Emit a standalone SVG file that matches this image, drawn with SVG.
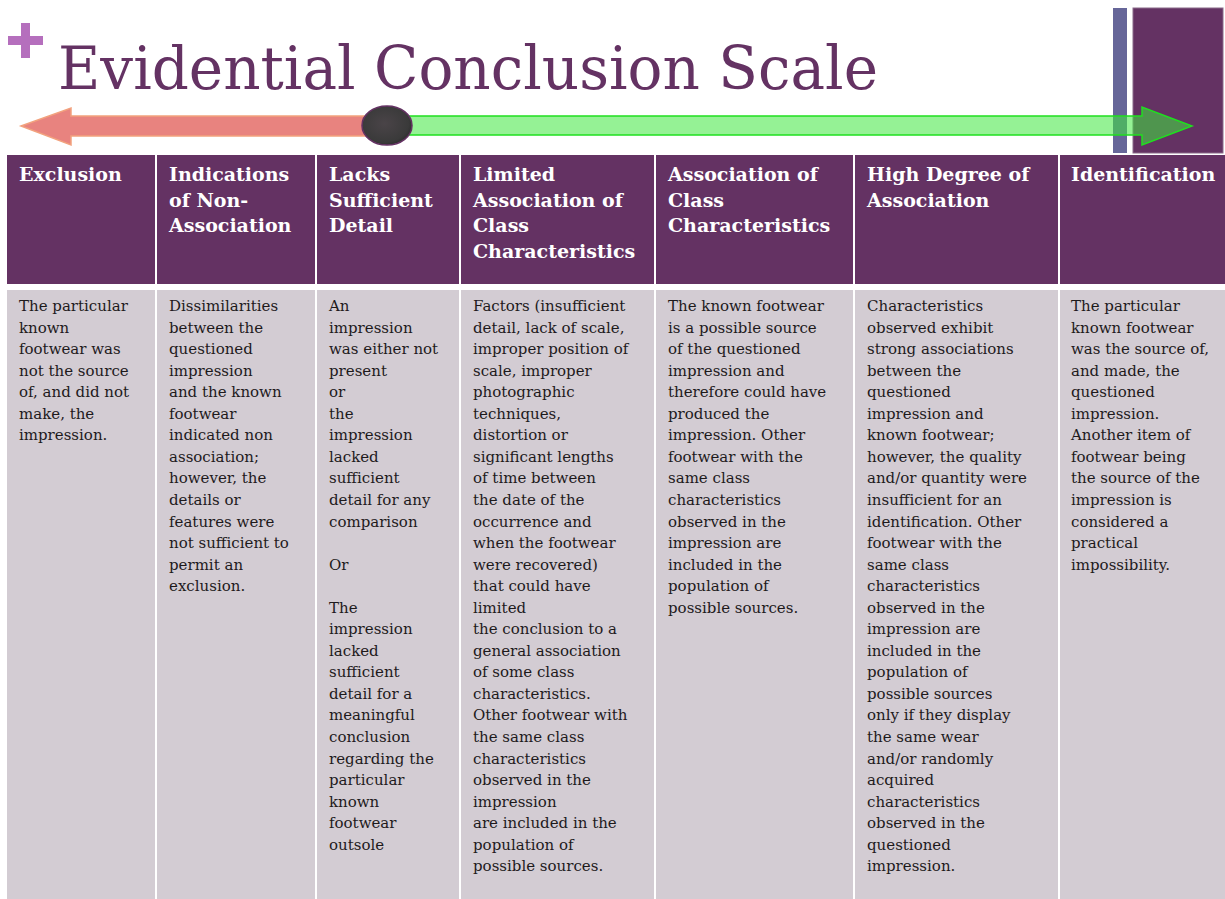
<svg xmlns="http://www.w3.org/2000/svg" width="1225" height="899" viewBox="0 0 1225 899">
<style>
.hd{fill:#643263}
.bd{fill:#d3ccd3}
.ht{font-family:"DejaVu Serif",serif;font-weight:bold;font-size:19px;fill:#ffffff}
.bt{font-family:"DejaVu Serif",serif;font-size:15px;fill:#1e1a1c}
.title{font-family:"DejaVu Serif",serif;font-size:60px;fill:#643263}
</style>
<defs>
<radialGradient id="knob" cx="0.45" cy="0.45" r="0.6">
<stop offset="0" stop-color="#4a4448"/>
<stop offset="0.8" stop-color="#3a3a3a"/>
<stop offset="1" stop-color="#2a2a2a"/>
</radialGradient>
</defs>
<rect width="1225" height="899" fill="#ffffff"/>
<g id="decor">
<rect x="8" y="36" width="35" height="9" fill="#b56fbd"/>
<rect x="21" y="23" width="9" height="35" fill="#b56fbd"/>
<rect x="1113" y="8" width="14" height="145" fill="#666699"/>
<rect x="1133" y="8" width="90" height="145" fill="#643263" stroke="#8a6a8a" stroke-width="1"/>
</g>
<text id="title" class="title" x="58" y="89" textLength="820" lengthAdjust="spacingAndGlyphs">Evidential Conclusion Scale</text>
<g id="connectors">
<path d="M21,126 L71,108 L71,116 L390,116 L390,136 L71,136 L71,145 Z" fill="#e8837f" stroke="#f2a27e" stroke-width="1.5"/>
<path d="M385,116 L1142,116 L1142,107 L1192,126 L1142,145 L1142,135 L385,135 Z" fill="#3ee83e" fill-opacity="0.55" stroke="#1fe01f" stroke-width="1.5"/>
<ellipse cx="387" cy="125.5" rx="25" ry="19.5" fill="url(#knob)" stroke="#643263" stroke-width="1.5"/>
</g>
<g id="col1">
<rect class="hd" x="7" y="155" width="148" height="129"/>
<rect class="bd" x="7" y="290" width="148" height="609"/>
<text class="ht" x="19" y="181">Exclusion</text>
<text class="bt" x="19" y="311"><tspan x="19">The particular</tspan><tspan x="19" dy="21.55">known</tspan><tspan x="19" dy="21.55">footwear was</tspan><tspan x="19" dy="21.55">not the source</tspan><tspan x="19" dy="21.55">of, and did not</tspan><tspan x="19" dy="21.55">make, the</tspan><tspan x="19" dy="21.55">impression.</tspan></text>
</g>
<g id="col2">
<rect class="hd" x="157" y="155" width="158" height="129"/>
<rect class="bd" x="157" y="290" width="158" height="609"/>
<text class="ht" x="169" y="181"><tspan x="169">Indications</tspan><tspan x="169" dy="25.7">of Non-</tspan><tspan x="169" dy="25.7">Association</tspan></text>
<text class="bt" x="169" y="311"><tspan x="169">Dissimilarities</tspan><tspan x="169" dy="21.55">between the</tspan><tspan x="169" dy="21.55">questioned</tspan><tspan x="169" dy="21.55">impression</tspan><tspan x="169" dy="21.55">and the known</tspan><tspan x="169" dy="21.55">footwear</tspan><tspan x="169" dy="21.55">indicated non</tspan><tspan x="169" dy="21.55">association;</tspan><tspan x="169" dy="21.55">however, the</tspan><tspan x="169" dy="21.55">details or</tspan><tspan x="169" dy="21.55">features were</tspan><tspan x="169" dy="21.55">not sufficient to</tspan><tspan x="169" dy="21.55">permit an</tspan><tspan x="169" dy="21.55">exclusion.</tspan></text>
</g>
<g id="col3">
<rect class="hd" x="317" y="155" width="142" height="129"/>
<rect class="bd" x="317" y="290" width="142" height="609"/>
<text class="ht" x="329" y="181"><tspan x="329">Lacks</tspan><tspan x="329" dy="25.7">Sufficient</tspan><tspan x="329" dy="25.7">Detail</tspan></text>
<text class="bt" x="329" y="311"><tspan x="329">An</tspan><tspan x="329" dy="21.55">impression</tspan><tspan x="329" dy="21.55">was either not</tspan><tspan x="329" dy="21.55">present</tspan><tspan x="329" dy="21.55">or</tspan><tspan x="329" dy="21.55">the</tspan><tspan x="329" dy="21.55">impression</tspan><tspan x="329" dy="21.55">lacked</tspan><tspan x="329" dy="21.55">sufficient</tspan><tspan x="329" dy="21.55">detail for any</tspan><tspan x="329" dy="21.55">comparison</tspan><tspan x="329" dy="43.1">Or</tspan><tspan x="329" dy="43.1">The</tspan><tspan x="329" dy="21.55">impression</tspan><tspan x="329" dy="21.55">lacked</tspan><tspan x="329" dy="21.55">sufficient</tspan><tspan x="329" dy="21.55">detail for a</tspan><tspan x="329" dy="21.55">meaningful</tspan><tspan x="329" dy="21.55">conclusion</tspan><tspan x="329" dy="21.55">regarding the</tspan><tspan x="329" dy="21.55">particular</tspan><tspan x="329" dy="21.55">known</tspan><tspan x="329" dy="21.55">footwear</tspan><tspan x="329" dy="21.55">outsole</tspan></text>
</g>
<g id="col4">
<rect class="hd" x="461" y="155" width="193" height="129"/>
<rect class="bd" x="461" y="290" width="193" height="609"/>
<text class="ht" x="473" y="181"><tspan x="473">Limited</tspan><tspan x="473" dy="25.7">Association of</tspan><tspan x="473" dy="25.7">Class</tspan><tspan x="473" dy="25.7">Characteristics</tspan></text>
<text class="bt" x="473" y="311"><tspan x="473">Factors (insufficient</tspan><tspan x="473" dy="21.55">detail, lack of scale,</tspan><tspan x="473" dy="21.55">improper position of</tspan><tspan x="473" dy="21.55">scale, improper</tspan><tspan x="473" dy="21.55">photographic</tspan><tspan x="473" dy="21.55">techniques,</tspan><tspan x="473" dy="21.55">distortion or</tspan><tspan x="473" dy="21.55">significant lengths</tspan><tspan x="473" dy="21.55">of time between</tspan><tspan x="473" dy="21.55">the date of the</tspan><tspan x="473" dy="21.55">occurrence and</tspan><tspan x="473" dy="21.55">when the footwear</tspan><tspan x="473" dy="21.55">were recovered)</tspan><tspan x="473" dy="21.55">that could have</tspan><tspan x="473" dy="21.55">limited</tspan><tspan x="473" dy="21.55">the conclusion to a</tspan><tspan x="473" dy="21.55">general association</tspan><tspan x="473" dy="21.55">of some class</tspan><tspan x="473" dy="21.55">characteristics.</tspan><tspan x="473" dy="21.55">Other footwear with</tspan><tspan x="473" dy="21.55">the same class</tspan><tspan x="473" dy="21.55">characteristics</tspan><tspan x="473" dy="21.55">observed in the</tspan><tspan x="473" dy="21.55">impression</tspan><tspan x="473" dy="21.55">are included in the</tspan><tspan x="473" dy="21.55">population of</tspan><tspan x="473" dy="21.55">possible sources.</tspan></text>
</g>
<g id="col5">
<rect class="hd" x="656" y="155" width="197" height="129"/>
<rect class="bd" x="656" y="290" width="197" height="609"/>
<text class="ht" x="668" y="181"><tspan x="668">Association of</tspan><tspan x="668" dy="25.7">Class</tspan><tspan x="668" dy="25.7">Characteristics</tspan></text>
<text class="bt" x="668" y="311"><tspan x="668">The known footwear</tspan><tspan x="668" dy="21.55">is a possible source</tspan><tspan x="668" dy="21.55">of the questioned</tspan><tspan x="668" dy="21.55">impression and</tspan><tspan x="668" dy="21.55">therefore could have</tspan><tspan x="668" dy="21.55">produced the</tspan><tspan x="668" dy="21.55">impression. Other</tspan><tspan x="668" dy="21.55">footwear with the</tspan><tspan x="668" dy="21.55">same class</tspan><tspan x="668" dy="21.55">characteristics</tspan><tspan x="668" dy="21.55">observed in the</tspan><tspan x="668" dy="21.55">impression are</tspan><tspan x="668" dy="21.55">included in the</tspan><tspan x="668" dy="21.55">population of</tspan><tspan x="668" dy="21.55">possible sources.</tspan></text>
</g>
<g id="col6">
<rect class="hd" x="855" y="155" width="203" height="129"/>
<rect class="bd" x="855" y="290" width="203" height="609"/>
<text class="ht" x="867" y="181"><tspan x="867">High Degree of</tspan><tspan x="867" dy="25.7">Association</tspan></text>
<text class="bt" x="867" y="311"><tspan x="867">Characteristics</tspan><tspan x="867" dy="21.55">observed exhibit</tspan><tspan x="867" dy="21.55">strong associations</tspan><tspan x="867" dy="21.55">between the</tspan><tspan x="867" dy="21.55">questioned</tspan><tspan x="867" dy="21.55">impression and</tspan><tspan x="867" dy="21.55">known footwear;</tspan><tspan x="867" dy="21.55">however, the quality</tspan><tspan x="867" dy="21.55">and/or quantity were</tspan><tspan x="867" dy="21.55">insufficient for an</tspan><tspan x="867" dy="21.55">identification. Other</tspan><tspan x="867" dy="21.55">footwear with the</tspan><tspan x="867" dy="21.55">same class</tspan><tspan x="867" dy="21.55">characteristics</tspan><tspan x="867" dy="21.55">observed in the</tspan><tspan x="867" dy="21.55">impression are</tspan><tspan x="867" dy="21.55">included in the</tspan><tspan x="867" dy="21.55">population of</tspan><tspan x="867" dy="21.55">possible sources</tspan><tspan x="867" dy="21.55">only if they display</tspan><tspan x="867" dy="21.55">the same wear</tspan><tspan x="867" dy="21.55">and/or randomly</tspan><tspan x="867" dy="21.55">acquired</tspan><tspan x="867" dy="21.55">characteristics</tspan><tspan x="867" dy="21.55">observed in the</tspan><tspan x="867" dy="21.55">questioned</tspan><tspan x="867" dy="21.55">impression.</tspan></text>
</g>
<g id="col7">
<rect class="hd" x="1060" y="155" width="165" height="129"/>
<rect class="bd" x="1060" y="290" width="165" height="609"/>
<text class="ht" x="1071" y="181">Identification</text>
<text class="bt" x="1071" y="311"><tspan x="1071">The particular</tspan><tspan x="1071" dy="21.55">known footwear</tspan><tspan x="1071" dy="21.55">was the source of,</tspan><tspan x="1071" dy="21.55">and made, the</tspan><tspan x="1071" dy="21.55">questioned</tspan><tspan x="1071" dy="21.55">impression.</tspan><tspan x="1071" dy="21.55">Another item of</tspan><tspan x="1071" dy="21.55">footwear being</tspan><tspan x="1071" dy="21.55">the source of the</tspan><tspan x="1071" dy="21.55">impression is</tspan><tspan x="1071" dy="21.55">considered a</tspan><tspan x="1071" dy="21.55">practical</tspan><tspan x="1071" dy="21.55">impossibility.</tspan></text>
</g>
</svg>
